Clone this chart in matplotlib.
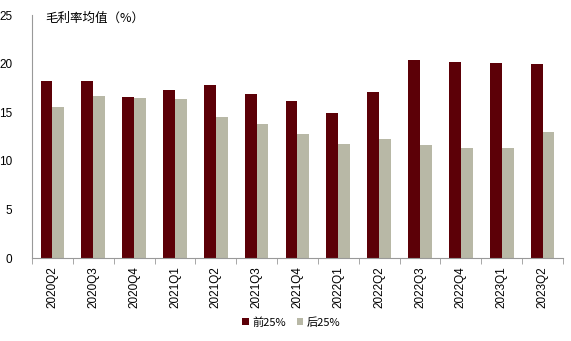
import numpy as np
import matplotlib.pyplot as plt

plt.rcParams['font.family'] = ['Noto Sans CJK SC', 'DejaVu Sans']

quarters = ['2020Q2', '2020Q3', '2020Q4', '2021Q1', '2021Q2', '2021Q3', '2021Q4',
            '2022Q1', '2022Q2', '2022Q3', '2022Q4', '2023Q1', '2023Q2']
top25 = [18.2, 18.2, 16.6, 17.3, 17.8, 16.9, 16.2, 14.9, 17.1, 20.4, 20.2, 20.1, 20.0]
bottom25 = [15.5, 16.7, 16.5, 16.4, 14.5, 13.8, 12.8, 11.7, 12.3, 11.6, 11.3, 11.3, 13.0]

fig = plt.figure(figsize=(5.71, 3.41), dpi=100)
ax = fig.add_axes([0.056, 0.243, 0.930, 0.713])

x = np.arange(len(quarters))
w = 0.29
ax.bar(x - w / 2, top25, w, color='#5C0007', label='前25%')
ax.bar(x + w / 2, bottom25, w, color='#B8B8A6', label='后25%')

ax.set_xlim(-0.5, len(quarters) - 0.5)
ax.set_ylim(0, 25)
ax.set_yticks([0, 5, 10, 15, 20, 25])
ax.set_yticklabels(['0', '5', '10', '15', '20', '25'], family='Liberation Sans', fontsize=8.5)
ax.tick_params(axis='y', length=0, pad=14)
ax.set_xticks(x)
ax.set_xticklabels(quarters, rotation=90, fontsize=8.5, family='Liberation Sans')
ax.tick_params(axis='x', length=0, pad=6)
ax.set_xticks(np.arange(len(quarters) + 1) - 0.5, minor=True)
ax.tick_params(axis='x', which='minor', length=4, color='#999999')

for s in ['top', 'right']:
    ax.spines[s].set_visible(False)
for s in ['left', 'bottom']:
    ax.spines[s].set_color('#999999')

ax.text(0.025, 0.985, '毛利率均值（%）', transform=ax.transAxes, fontsize=9, va='center', ha='left')

fig.legend(loc='center', bbox_to_anchor=(0.51, 0.055), ncol=2, frameon=False, fontsize=8,
           handlelength=0.6, handleheight=0.6, handletextpad=0.3, columnspacing=1.0)

fig.savefig('out.png', dpi=100)
